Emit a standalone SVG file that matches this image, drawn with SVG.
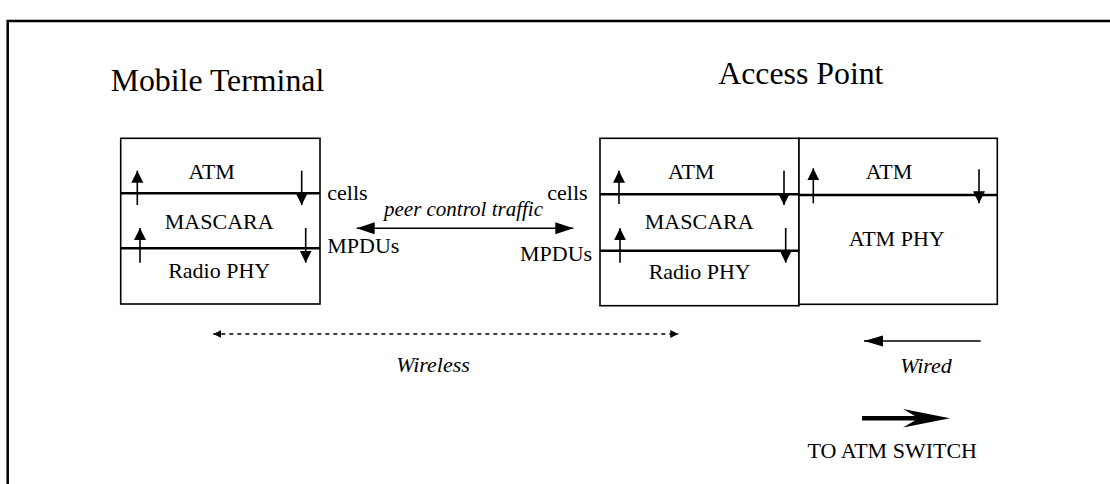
<svg xmlns="http://www.w3.org/2000/svg" width="1110" height="484" viewBox="0 0 1110 484">
  <style>
    text { font-family: "Liberation Serif", "Times New Roman", serif; fill: #000; }
    .title { font-size: 31.8px; }
    .lbl { font-size: 22px; }
    .it { font-size: 22px; font-style: italic; }
    .box { fill: #fff; stroke: #000; stroke-width: 1.6; }
    .div { stroke: #000; stroke-width: 2.6; }
    .flow { stroke: #000; stroke-width: 1.6; fill: none; }
  </style>
  <defs>
    <marker id="layerHead" markerUnits="userSpaceOnUse" markerWidth="13" markerHeight="13" refX="12" refY="6" orient="auto">
      <path d="M0,0 L12,6 L0,12 z" fill="#000"/>
    </marker>
    <marker id="peerHead" markerUnits="userSpaceOnUse" markerWidth="19" markerHeight="13" refX="18" refY="6" orient="auto-start-reverse">
      <path d="M0,0 L18,6 L0,12 z" fill="#000"/>
    </marker>
    <marker id="dotHead" markerUnits="userSpaceOnUse" markerWidth="9" markerHeight="9" refX="8" refY="4" orient="auto-start-reverse">
      <path d="M0,0 L8,4 L0,8 z" fill="#000"/>
    </marker>
    <marker id="wiredHead" markerUnits="userSpaceOnUse" markerWidth="20" markerHeight="12" refX="19" refY="5.5" orient="auto">
      <path d="M0,0 L19,5.5 L0,11 z" fill="#000"/>
    </marker>
  </defs>

  <rect width="1110" height="484" fill="#fff"/>

  <!-- page frame -->
  <path d="M7.7,484 L7.7,21 L1110,21" fill="none" stroke="#000" stroke-width="2.5"/>

  <!-- headings -->
  <text class="title" x="110.7" y="91">Mobile Terminal</text>
  <text class="title" x="718.3" y="84.3">Access Point</text>

  <!-- Mobile Terminal protocol stack -->
  <g id="mt-stack">
    <rect class="box" x="120.7" y="138.3" width="199.3" height="165.7"/>
    <line class="div" x1="120.7" y1="193.3" x2="320" y2="193.3"/>
    <line class="div" x1="120.7" y1="248.3" x2="320" y2="248.3"/>
    <text class="lbl" x="211.7" y="179" text-anchor="middle">ATM</text>
    <text class="lbl" x="219.2" y="229" text-anchor="middle">MASCARA</text>
    <text class="lbl" x="219.2" y="278" text-anchor="middle">Radio PHY</text>
  </g>

  <!-- Access Point radio-side stack -->
  <g id="ap-radio-stack">
    <rect class="box" x="600" y="138.3" width="199" height="167.4"/>
    <line class="div" x1="600" y1="194.3" x2="799" y2="194.3"/>
    <line class="div" x1="600" y1="250.7" x2="799" y2="250.7"/>
    <text class="lbl" x="691.2" y="179.3" text-anchor="middle">ATM</text>
    <text class="lbl" x="699.2" y="229.3" text-anchor="middle">MASCARA</text>
    <text class="lbl" x="699.7" y="279.3" text-anchor="middle">Radio PHY</text>
  </g>

  <!-- Access Point wired-side stack -->
  <g id="ap-wired-stack">
    <rect class="box" x="799" y="138.3" width="198.3" height="166"/>
    <line class="div" x1="799" y1="195" x2="997.3" y2="195"/>
    <text class="lbl" x="889" y="179.3" text-anchor="middle">ATM</text>
    <text class="lbl" x="896.7" y="245.7" text-anchor="middle">ATM PHY</text>
  </g>

  <!-- interface labels -->
  <g id="interface-labels">
    <text class="lbl" x="327.3" y="200">cells</text>
    <text class="lbl" x="327.3" y="253">MPDUs</text>
    <text class="lbl" x="547.3" y="200">cells</text>
    <text class="lbl" x="520" y="261">MPDUs</text>
    <text class="it" x="463.5" y="215.5" text-anchor="middle" style="font-size:21px">peer control traffic</text>
    <text class="it" x="433" y="371.7" text-anchor="middle">Wireless</text>
    <text class="it" x="926" y="373.3" text-anchor="middle">Wired</text>
    <text class="lbl" x="977" y="458.3" text-anchor="end">TO ATM SWITCH</text>
  </g>

  <!-- connectors -->
  <g id="connectors">
    <!-- Mobile Terminal layer flows -->
    <line class="flow" x1="137.3" y1="205" x2="137.3" y2="170.7" marker-end="url(#layerHead)"/>
    <line class="flow" x1="140" y1="262.7" x2="140" y2="228" marker-end="url(#layerHead)"/>
    <line class="flow" x1="301.7" y1="170.7" x2="301.7" y2="205" marker-end="url(#layerHead)"/>
    <line class="flow" x1="305.7" y1="228" x2="305.7" y2="262.7" marker-end="url(#layerHead)"/>
    <!-- Access Point radio-side layer flows -->
    <line class="flow" x1="619" y1="204" x2="619" y2="170.7" marker-end="url(#layerHead)"/>
    <line class="flow" x1="620" y1="262.7" x2="620" y2="228.3" marker-end="url(#layerHead)"/>
    <line class="flow" x1="784" y1="170.7" x2="784" y2="205" marker-end="url(#layerHead)"/>
    <line class="flow" x1="785.7" y1="228" x2="785.7" y2="262.7" marker-end="url(#layerHead)"/>
    <!-- Access Point wired-side layer flows -->
    <line class="flow" x1="813.3" y1="203.3" x2="813.3" y2="168.3" marker-end="url(#layerHead)"/>
    <line class="flow" x1="979" y1="169.3" x2="979" y2="203.3" marker-end="url(#layerHead)"/>

    <!-- peer control traffic -->
    <line class="flow" x1="356.7" y1="228.3" x2="573.3" y2="228.3" marker-start="url(#peerHead)" marker-end="url(#peerHead)"/>

    <!-- wireless span -->
    <line class="flow" x1="213.3" y1="334" x2="678.3" y2="334" stroke-dasharray="4 4" marker-start="url(#dotHead)" marker-end="url(#dotHead)"/>

    <!-- wired direction -->
    <line class="flow" x1="980.7" y1="341" x2="864" y2="341" marker-end="url(#wiredHead)"/>

    <!-- towards the ATM switch -->
    <polygon points="862,416 915,416 903,409 950,418.3 903,427.6 915,420.6 862,420.6" fill="#000"/>
  </g>
</svg>
